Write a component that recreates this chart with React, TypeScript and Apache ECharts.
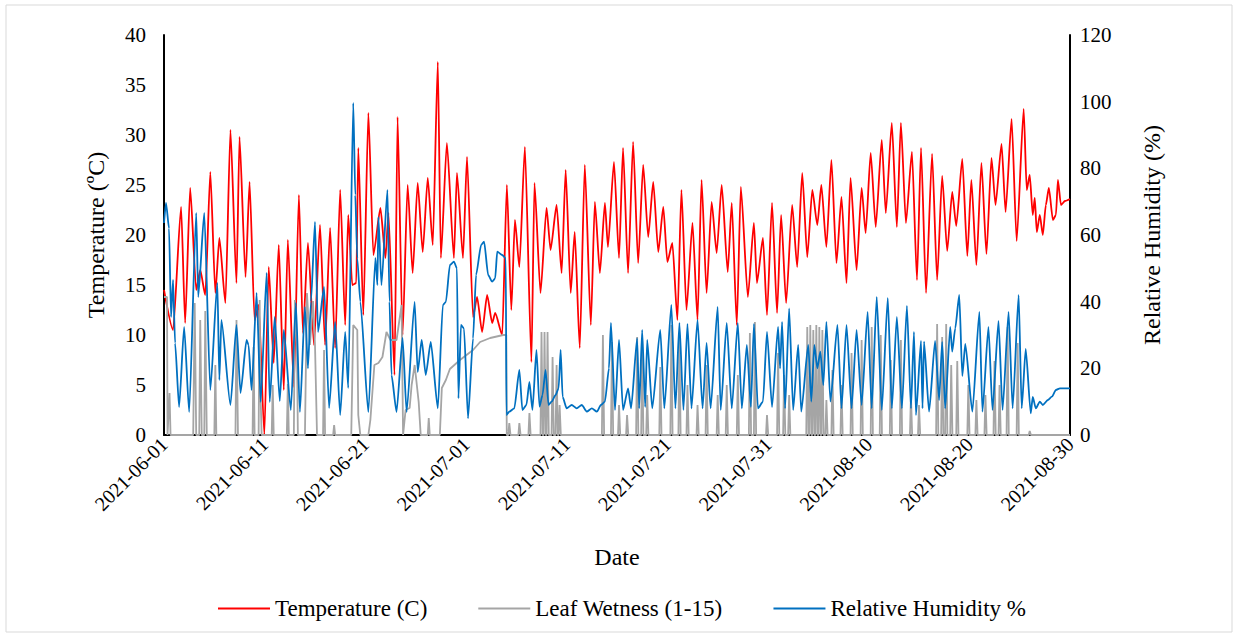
import React, { useEffect, useRef } from "react";
import * as echarts from "echarts";

// x values are days since 2021-06-01 00:00
const START = Date.UTC(2021, 5, 1);
const X_MAX_DAYS = 90;
const X_TICK_STEP = 10;

const seriesNames = ["Temperature (C)", "Leaf Wetness (1-15)", "Relative Humidity %"];
const axisNames = { x: "Date", left: "Temperature (ºC)", right: "Relative Humidity (%)" };

// Temperature (°C): peaks and troughs [day, value]
const temperature: [number, number][] = [
  [0, 14.5], [0.9, 10.5], [1.7, 22.8], [2.1, 11.2], [2.6, 24.7], [3.2, 14.5], [3.6, 16.5], [4.1, 14.0],
  [4.6, 26.3], [5.1, 14.2], [5.5, 19.7], [6.1, 13.2], [6.6, 30.5], [7.2, 15.2], [7.5, 29.8], [8.1, 15.8],
  [8.5, 25.3], [9.0, 11.5], [9.4, 13.0], [9.97, 0], [10.4, 16.8], [10.9, 7.2], [11.4, 19.0], [11.9, 4.5],
  [12.3, 19.5], [12.9, 4.8], [13.4, 24.0], [13.8, 10.2], [14.3, 19.2], [14.9, 9.0], [15.5, 21.0], [16.0, 9.0],
  [16.5, 20.7], [17.0, 8.7], [17.5, 24.5], [18.0, 11.0], [18.3, 22.0], [18.7, 15.0], [19.1, 15.2], [19.3, 28.7],
  [19.8, 12.0], [20.3, 32.2], [20.8, 18.0], [21.5, 22.7], [22.0, 17.7], [22.3, 22.2], [22.9, 6.0], [23.2, 31.8],
  [23.7, 10.0], [24.2, 25.0], [24.7, 16.2], [25.2, 25.2], [25.7, 18.3], [26.2, 25.7], [26.7, 19.0], [27.2, 37.3],
  [27.5, 17.7], [28.1, 29.2], [28.8, 17.7], [29.1, 26.2], [29.7, 17.7], [30.1, 27.8], [30.7, 11.8], [31.1, 13.8],
  [31.6, 10.3], [32.1, 14.0], [32.6, 11.2], [32.9, 12.2], [33.6, 10.0], [34.06, 25.0], [34.5, 12.5], [34.86, 21.5],
  [35.3, 16.8], [35.85, 28.8], [36.5, 7.3], [36.8, 25.2], [37.4, 14.2], [38.0, 22.7], [38.4, 18.5], [39.0, 23.0],
  [39.5, 16.2], [39.9, 26.5], [40.4, 14.2], [40.8, 20.3], [41.3, 8.7], [41.8, 27.0], [42.4, 11.0], [42.8, 23.3],
  [43.3, 16.2], [43.8, 23.2], [44.1, 18.8], [44.7, 27.3], [45.2, 17.7], [45.6, 28.7], [46.1, 16.2], [46.6, 29.3],
  [47.1, 17.2], [47.6, 27.0], [48.1, 19.8], [48.6, 25.3], [49.1, 18.3], [49.6, 22.8], [50.0, 17.3], [50.5, 19.2],
  [51.0, 11.5], [51.4, 24.5], [51.9, 12.5], [52.5, 21.2], [53.0, 11.5], [53.4, 25.5], [53.9, 14.2], [54.4, 23.3],
  [54.9, 18.2], [55.4, 25.0], [56.0, 16.3], [56.4, 23.2], [56.9, 11.0], [57.3, 24.8], [58.0, 13.8], [58.6, 21.2],
  [58.9, 15.2], [59.5, 19.7], [59.9, 12.0], [60.4, 23.2], [60.9, 12.2], [61.3, 22.0], [61.8, 13.2], [62.4, 23.0],
  [62.9, 16.8], [63.4, 26.2], [63.9, 17.8], [64.4, 24.5], [64.9, 21.0], [65.3, 25.0], [65.8, 18.8], [66.3, 27.5],
  [66.8, 17.2], [67.3, 23.8], [67.8, 15.2], [68.2, 25.7], [68.8, 16.5], [69.3, 24.7], [69.7, 20.2], [70.2, 28.2],
  [70.7, 20.8], [71.3, 29.5], [71.7, 22.2], [72.3, 31.2], [72.8, 20.8], [73.2, 31.2], [73.7, 21.2], [74.3, 28.3],
  [74.8, 15.5], [75.2, 28.7], [75.7, 14.2], [76.3, 28.1], [76.8, 15.5], [77.3, 25.9], [77.8, 18.4], [78.3, 24.3],
  [78.7, 20.9], [79.3, 27.6], [79.8, 17.9], [80.2, 25.5], [80.7, 17.0], [81.2, 27.2], [81.7, 18.1], [82.2, 27.7],
  [82.6, 23.0], [83.2, 29.1], [83.6, 22.3], [84.2, 31.6], [84.7, 19.4], [85.4, 32.6], [85.7, 24.5], [86.0, 26.0],
  [86.3, 22.0], [86.5, 23.7], [86.7, 20.3], [87.0, 22.0], [87.3, 20.0], [87.6, 23.0], [87.9, 24.7], [88.3, 21.5],
  [88.6, 22.0], [88.8, 25.5], [89.1, 23.0], [89.5, 23.4], [90, 23.6],
];

// Relative humidity (%): peaks and troughs [day, value]
const humidity: [number, number][] = [
  [0, 63.6], [0.2, 69.6], [0.5, 62], [0.7, 35.4], [0.9, 46.5], [1.1, 27.6], [1.5, 8.4], [2.0, 32.4], [2.5, 6.9],
  [3.2, 66.6], [3.4, 41.4], [4.0, 66.6], [4.6, 13.5], [5.3, 45.6], [5.5, 16.5], [5.7, 34.5], [6.6, 9], [7.2, 33],
  [7.6, 12.6], [8.2, 28.5], [8.4, 27], [8.7, 13.5], [9.2, 42.6], [9.6, 9.9], [10.2, 48.6], [10.5, 9.9], [11.0, 35.4],
  [11.5, 10.2], [11.9, 31.5], [12.6, 7.5], [13.1, 39.6], [13.5, 6.9], [14.0, 38.4], [14.3, 20], [14.6, 40],
  [15.0, 63.9], [15.3, 30.9], [15.9, 44.4], [16.4, 8.1], [17.0, 33.9], [17.5, 6], [18.0, 30.9], [18.3, 14.1],
  [18.8, 99.6], [19.0, 72], [19.2, 53], [19.5, 40], [20.3, 6.9], [21.0, 53.1], [21.2, 45], [21.3, 65.4], [21.6, 45],
  [22.2, 73.5], [22.4, 40], [22.6, 18], [23.1, 6.9], [23.7, 29.1], [24.1, 6.9], [24.9, 39.9], [25.2, 18.9],
  [25.6, 28.5], [26.0, 18], [26.5, 27.9], [27.2, 8], [27.7, 39], [28.0, 39.9], [28.4, 51], [28.8, 52], [29.1, 50],
  [29.25, 11], [29.5, 33], [29.8, 32], [30.2, 5], [30.7, 29], [31.0, 48], [31.5, 57], [31.8, 58], [32.2, 48],
  [32.6, 46], [32.9, 47], [33.1, 55], [33.6, 54], [33.95, 53], [34.02, 6], [34.3, 7], [34.8, 8], [35.3, 19.5],
  [35.6, 7.5], [36.0, 9], [36.3, 15.9], [36.6, 7.5], [37.0, 25.5], [37.3, 8.5], [37.6, 12], [37.9, 19.5], [38.2, 9],
  [38.5, 10], [38.9, 12], [39.2, 14], [39.4, 25.5], [39.6, 11.4], [40.0, 8], [40.5, 9], [41.0, 8], [41.5, 9],
  [42.0, 7], [42.5, 8], [43.0, 7], [43.4, 9], [43.8, 10], [44.2, 20], [44.4, 33.6], [44.8, 7.5], [45.2, 28.5],
  [45.6, 7.5], [46.1, 14], [46.4, 8], [47.0, 29], [47.2, 8], [47.5, 31.5], [47.8, 8.4], [48.0, 28.5], [48.5, 8],
  [49.3, 31.5], [49.7, 8], [50.4, 39], [50.8, 8], [51.2, 33.6], [51.6, 7.5], [52.0, 33.3], [52.4, 8], [53.0, 34.5],
  [53.5, 8], [53.9, 27.6], [54.3, 8], [55.0, 38.4], [55.3, 7.5], [55.9, 33.6], [56.4, 8], [57.0, 33.6], [57.4, 8],
  [57.9, 27], [58.3, 8.4], [58.6, 33.3], [59.0, 8], [59.5, 10], [59.9, 30.9], [60.4, 8.4], [61.0, 32.4], [61.2, 20],
  [61.4, 33.9], [61.7, 8], [62.1, 38], [62.5, 7.5], [63.0, 27], [63.3, 7], [64.0, 27], [64.3, 10], [64.6, 27],
  [64.9, 20], [65.2, 25], [65.5, 15], [65.8, 33.9], [66.2, 10], [66.9, 33], [67.3, 8], [67.8, 33], [68.3, 8],
  [68.8, 31.5], [69.3, 9], [69.9, 36.9], [70.3, 8], [70.8, 41.4], [71.3, 7.5], [71.9, 41.1], [72.3, 8], [72.8, 35.4],
  [73.3, 8], [73.8, 38.7], [74.2, 8], [74.5, 30.9], [74.7, 6], [75.2, 28.2], [75.35, 8], [75.5, 28], [76.0, 7],
  [76.6, 28.2], [77.0, 10.5], [77.3, 27.9], [77.6, 8], [78.1, 32.4], [78.3, 25], [78.6, 32], [79.0, 42], [79.3, 17.7],
  [79.6, 27.3], [80.3, 7], [81.0, 36.9], [81.3, 7], [81.9, 32.4], [82.3, 7.5], [82.9, 34.2], [83.3, 7.5], [83.9, 36.9],
  [84.3, 8], [84.9, 42], [85.2, 8], [85.6, 25.8], [86.1, 6.5], [86.3, 11.4], [86.6, 8], [87.0, 10], [87.3, 9],
  [87.8, 10.5], [88.2, 11.5], [88.6, 13.5], [89.0, 14], [90, 14],
];

// Leaf wetness, early irregular period [day, value]
const leafEarly: [number, number][] = [
  [0, 13.8], [0.3, 13.8], [0.35, 0], [0.55, 4.2], [0.65, 0], [2.9, 0], [3.05, 13.2], [3.2, 0], [3.5, 0], [3.6, 11.5],
  [3.75, 0], [4.0, 0], [4.1, 12.4], [4.25, 0], [5.0, 0], [5.1, 7], [5.2, 0], [7.1, 0], [7.2, 11.5], [7.35, 0],
  [8.8, 0], [8.9, 8.8], [9.0, 0], [9.4, 0], [9.5, 13.5], [9.6, 3.7], [9.7, 0], [10.7, 0], [10.8, 5], [10.9, 0],
  [12.2, 0], [12.3, 5.1], [12.4, 0], [12.9, 0], [13.0, 13.5], [13.2, 9.2], [13.3, 0], [14.0, 0], [14.2, 14.2],
  [14.5, 9], [14.8, 13.4], [15.0, 9], [15.2, 0], [15.8, 0], [15.9, 8.5], [16.0, 0], [16.8, 0], [16.9, 1], [17.0, 0],
  [18.6, 0], [18.8, 11], [19.2, 10.5], [19.3, 2], [19.5, 0], [20.3, 0], [20.5, 1.5], [20.9, 7], [21.3, 7.2],
  [21.7, 7.8], [22.1, 10.3], [22.5, 9.5], [23.1, 9.5], [23.6, 13], [23.75, 0], [24.0, 2.5], [24.4, 2.7], [24.6, 5],
  [24.9, 7], [25.3, 3.3], [25.5, 0], [26.2, 0], [26.3, 1.7], [26.4, 0], [27.4, 0], [27.6, 4.7], [28.0, 5.5],
  [28.4, 6.6], [29.4, 7.5], [30.7, 8.5], [31.4, 9.3], [32.4, 9.7], [33.7, 10], [34.0, 10], [34.05, 0],
];

// Leaf wetness, nightly spikes later on [day of spike top, value]
const leafSpikes: [number, number][] = [
  [34.3, 1.2], [35.3, 1.2], [36.3, 2.2], [37.5, 10.3], [37.8, 10.3], [38.1, 10.3], [38.6, 7.8], [39.0, 7], [39.3, 3],
  [43.6, 10], [44.5, 9.3], [45.2, 3], [46.0, 2], [47.0, 9.8], [47.5, 9.5], [48.0, 4], [49.3, 6.8], [50.4, 11],
  [51.2, 10], [52.0, 5], [53.0, 3], [53.9, 7], [55.0, 4], [55.9, 5], [57.0, 6], [58.2, 10.2], [58.7, 11.3],
  [59.9, 2], [61.0, 8.2], [61.6, 6], [62.1, 4], [63.9, 10.8], [64.2, 11], [64.5, 10.5], [64.8, 11], [65.1, 10.8],
  [65.4, 10.5], [65.8, 3.5], [66.4, 6.5], [67.3, 5], [68.3, 8.2], [69.3, 9.5], [70.3, 10.8], [71.2, 10],
  [72.2, 7.5], [73.2, 9.5], [74.2, 4], [75.0, 3], [76.8, 11.1], [77.3, 9.8], [77.7, 11.1], [78.2, 7], [78.8, 7.4],
  [79.9, 5], [80.7, 3.5], [81.6, 4], [82.5, 7.4], [83.0, 5], [83.8, 10.8], [84.8, 9.2], [86.0, 0.4],
];

function buildLeaf(): [number, number][] {
  const out: [number, number][] = [...leafEarly];
  for (const [t, v] of leafSpikes) {
    out.push([t - 0.1, 0], [t, v], [t + 0.12, 0]);
  }
  out.push([90, 0]);
  return out;
}

function dayLabel(d: number): string {
  return new Date(START + d * 86400000).toISOString().slice(0, 10);
}

const FONT = "'Liberation Serif', 'Times New Roman', serif";

export default function App() {
  const ref = useRef<HTMLDivElement>(null);
  useEffect(() => {
    if (!ref.current) return;
    const chart = echarts.init(ref.current, undefined, { renderer: "svg" });
    chart.setOption({
      animation: false,
      backgroundColor: "#ffffff",
      textStyle: { fontFamily: FONT },
      graphic: [
        {
          type: "rect",
          shape: { x: 6, y: 5, width: 1226, height: 627 },
          style: { fill: "none", stroke: "#d9d9d9", lineWidth: 1 },
          silent: true,
        },
      ],
      grid: { left: 164, right: 170, top: 35, bottom: 202, containLabel: false },
      legend: {
        data: seriesNames,
        left: 213,
        top: 592,
        icon: "rect",
        itemWidth: 52,
        itemHeight: 2,
        itemGap: 51,
        textStyle: { fontFamily: FONT, fontSize: 23, color: "#000" },
      },
      xAxis: {
        type: "value",
        min: 0,
        max: X_MAX_DAYS,
        interval: X_TICK_STEP,
        name: axisNames.x,
        nameLocation: "middle",
        nameGap: 110,
        nameTextStyle: { fontFamily: FONT, fontSize: 24, color: "#000" },
        axisLine: { show: true, lineStyle: { color: "#000", width: 2 } },
        axisTick: { show: false },
        splitLine: { show: false },
        axisLabel: {
          rotate: 45,
          margin: 6,
          fontFamily: FONT,
          fontSize: 20,
          color: "#000",
          formatter: (v: number) => dayLabel(v),
        },
      },
      yAxis: [
        {
          type: "value",
          min: 0,
          max: 40,
          interval: 5,
          position: "left",
          name: axisNames.left,
          nameLocation: "middle",
          nameRotate: 90,
          nameGap: 56,
          nameTextStyle: { fontFamily: FONT, fontSize: 24, color: "#000" },
          axisLine: { show: true, lineStyle: { color: "#000", width: 2 } },
          axisTick: { show: false },
          splitLine: { show: false },
          axisLabel: { fontFamily: FONT, fontSize: 21, color: "#000", margin: 18 },
        },
        {
          type: "value",
          min: 0,
          max: 120,
          interval: 20,
          position: "right",
          name: axisNames.right,
          nameLocation: "middle",
          nameRotate: 90,
          nameGap: 70,
          nameTextStyle: { fontFamily: FONT, fontSize: 24, color: "#000" },
          axisLine: { show: true, lineStyle: { color: "#000", width: 2 } },
          axisTick: { show: false },
          splitLine: { show: false },
          axisLabel: { fontFamily: FONT, fontSize: 21, color: "#000", margin: 10 },
        },
      ],
      series: [
        {
          name: seriesNames[0],
          type: "line",
          yAxisIndex: 0,
          data: temperature,
          showSymbol: false,
          smooth: 0.2,
          smoothMonotone: "x",
          lineStyle: { color: "#ff0000", width: 1.8 },
          itemStyle: { color: "#ff0000" },
          z: 2,
        },
        {
          name: seriesNames[1],
          type: "line",
          yAxisIndex: 0,
          data: buildLeaf(),
          showSymbol: false,
          lineStyle: { color: "#a5a5a5", width: 1.8 },
          itemStyle: { color: "#a5a5a5" },
          z: 3,
        },
        {
          name: seriesNames[2],
          type: "line",
          yAxisIndex: 1,
          data: humidity,
          showSymbol: false,
          smooth: 0.2,
          smoothMonotone: "x",
          lineStyle: { color: "#0070c0", width: 1.8 },
          itemStyle: { color: "#0070c0" },
          z: 4,
        },
      ],
    });
    return () => chart.dispose();
  }, []);
  return (
    <div
      ref={ref}
      style={{ position: "absolute", left: 0, top: 0, width: 1240, height: 637, background: "#fff" }}
    />
  );
}
